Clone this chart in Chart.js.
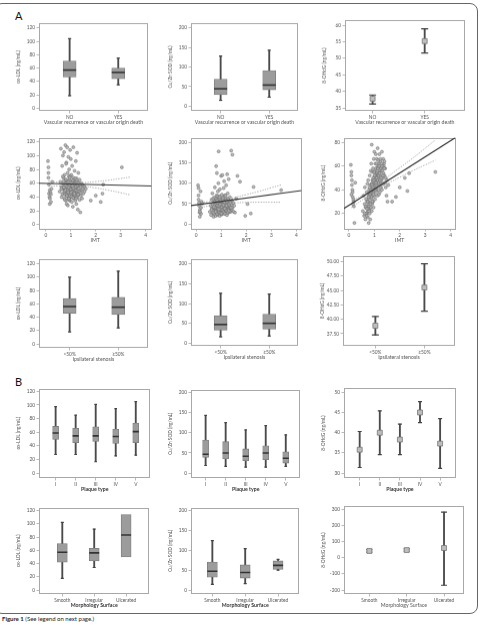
<!DOCTYPE html>
<html><head><meta charset="utf-8">
<script src="https://cdn.jsdelivr.net/npm/chart.js@4.4.1/dist/chart.umd.min.js"></script>
<style>
html,body{margin:0;padding:0;background:#fff;}
body{width:481px;height:625px;position:relative;overflow:hidden;font-family:Lato,"Liberation Sans",sans-serif;}
#outer{position:absolute;left:-6px;top:3px;width:484px;height:611px;box-sizing:border-box;border:1.5px solid #666;border-radius:8px;}
.lbl{position:absolute;font-size:11px;color:#111;line-height:11px;}
#cap{position:absolute;left:2px;top:615px;font-size:6px;color:#222;line-height:8px;}
</style></head><body>
<div id="outer"></div>
<div class="lbl" style="left:15px;top:10px">A</div>
<div class="lbl" style="left:15px;top:376px">B</div>
<div id="cap"><b>Figure 1</b> (See legend on next page.)</div>
<script>
// ---------------- categories & tick labels ----------------
const recurrenceCats = ["NO", "YES"];
const stenosisCats = ["<50%", "\u226550%"];
const plaqueCats = ["I", "II", "III", "IV", "V"];
const morphCats = ["Smooth", "Irregular", "Ulcerated"];

const ticksOx = [0, 20, 40, 60, 80, 100, 120];
const ticksSod = [0, 50, 100, 150, 200];
const ticksOhdgRec = [35, 40, 45, 50, 55, 60];
const ticksImt = [0, 1, 2, 3, 4];
const ticksOhdgImt = [20, 40, 60, 80];
const ticksOhdgSten = [37.5, 40, 42.5, 45, 47.5, 50];
const ticksOhdgPlaque = [30, 35, 40, 45, 50];
const ticksOhdgMorph = [-200, -100, 0, 100, 200, 300];

// ---------------- box plot stats [min, q1, median, q3, max] ----------------
const oxRecurrence = [[18.7, 46.5, 57, 70.5, 104], [35, 44, 53.5, 60, 75]];
const sodRecurrence = [[15, 29.6, 44.5, 69, 128], [23, 42, 54, 91, 143]];
const oxStenosis = [[18, 46, 56, 68, 100], [24, 44, 55, 70, 109]];
const sodStenosis = [[16, 33, 47, 69, 126], [18, 35, 50, 73, 124]];
const oxPlaque = [[27.4, 49.5, 59, 68.6, 97.5], [27.4, 44.6, 54.7, 65.8, 85], [16.8, 46.6, 54.7, 68, 100.8], [25.4, 43.7, 53.8, 64.8, 94.6], [26.4, 44.6, 61, 73.4, 105]];
const sodPlaque = [[19, 39, 47, 82, 143], [17, 35, 50, 78, 125], [15, 31, 42, 60, 107], [15, 33.5, 50, 68, 118], [17, 25, 37, 53, 95]];
const oxMorph = [[17.5, 42, 57, 70, 102], [34, 44, 56, 63, 92], [null, 50, 83, 114, null]];
const sodMorph = [[14, 32, 47, 70, 124], [16, 30, 44, 63, 104], [50, 52, 62, 73, 77]];

// ---------------- mean with error bars [low, mean, high] ----------------
const ohdgRecurrence = [[36.2, 37.8, 38.9], [51.6, 55.2, 58.9]];
const ohdgStenosis = [[37.3, 38.9, 40.5], [41.4, 45.5, 49.6]];
const ohdgPlaque = [[31.4, 35.8, 40.3], [34.6, 40, 45.4], [34.6, 38.3, 42.1], [42.5, 45, 47.7], [31.2, 37.3, 43.5]];
const ohdgMorph = [[35, 42, 50], [40, 47, 55], [-170, 60, 282]];

// ---------------- scatter: IMT vs markers ----------------
const imtValues = [
  0.08,0.1,0.1,0.12,0.12,0.14,0.15,0.15,0.18,0.2,0.2,0.22,0.25,0.1,0.16,
  0.55,0.58,0.6,0.62,0.63,0.65,0.66,0.68,0.7,0.7,
  0.72,0.73,0.74,0.75,0.75,0.76,0.78,0.78,0.8,0.8,
  0.8,0.82,0.82,0.83,0.84,0.85,0.85,0.86,0.87,0.88,
  0.88,0.89,0.9,0.9,0.9,0.91,0.92,0.92,0.93,0.94,
  0.95,0.95,0.96,0.97,0.98,0.98,1.0,1.0,1.0,1.01,
  1.02,1.03,1.04,1.05,1.05,1.06,1.07,1.08,1.08,1.1,
  1.1,1.1,1.12,1.12,1.13,1.14,1.15,1.15,1.16,1.18,
  1.18,1.2,1.2,1.2,1.22,1.23,1.24,1.25,1.25,1.26,
  1.28,1.28,1.3,1.3,1.32,1.33,1.35,1.35,1.36,1.38,
  1.4,1.4,1.42,1.43,1.45,1.45,1.48,1.5,1.52,1.55,
  0.68,0.72,0.77,0.81,0.86,0.93,0.99,1.06,1.11,1.17,
  0.62,0.66,0.7,0.74,0.76,0.79,0.8,0.83,0.85,0.87,
  0.89,0.9,0.92,0.94,0.96,0.97,0.99,1.0,1.02,1.03,
  1.04,1.06,1.08,1.09,1.1,1.12,1.13,1.15,1.17,1.19,
  1.2,1.22,1.24,1.26,1.27,1.29,1.31,1.34,1.37,1.39,
  0.71,0.78,0.84,0.91,0.95,1.01,1.07,1.14,1.21,1.3
];
const oxImtValues = [
  92,83,68,45,58,40,30,50,47,44,33,52,62,75,38,
  48,62,110,55,40,85,52,100,45,68,
  58,105,38,50,72,44,115,60,35,53,
  65,47,90,30,57,112,42,62,75,50,
  28,55,98,46,60,38,70,52,80,44,
  58,66,35,108,50,62,45,95,55,40,
  72,48,33,57,85,43,62,52,26,68,
  47,112,55,38,64,50,78,42,58,35,
  53,92,45,60,30,67,48,55,104,40,
  62,22,50,75,44,57,36,65,48,18,
  55,42,60,50,38,58,52,45,56,48,
  70,54,49,88,61,36,57,45,64,52,
  52,44,60,48,36,57,65,42,55,50,
  47,62,38,58,53,70,45,51,60,41,
  56,48,64,39,53,46,59,43,67,50,
  55,40,61,49,57,44,52,48,58,46,
  63,50,42,54,68,47,56,45,38,60
];
const sodImtValues = [
  95,88,60,45,52,28,18,35,80,40,25,55,50,70,30,
  30,45,22,60,38,75,28,50,18,40,
  65,25,48,35,90,55,20,42,142,30,
  58,70,28,125,45,35,62,22,80,50,
  38,100,178,48,26,55,33,68,42,20,
  52,85,36,45,28,60,40,118,30,55,
  24,72,46,120,35,50,64,28,42,88,
  55,32,48,105,38,25,70,45,58,35,
  30,52,95,40,62,22,122,48,36,75,
  44,60,110,28,50,38,66,42,55,30,
  180,48,36,58,170,40,52,30,45,28,
  62,40,54,33,68,46,38,57,50,44,
  35,48,28,55,40,32,62,25,45,38,
  52,30,44,66,27,50,36,58,42,24,
  48,34,60,29,46,38,54,26,70,40,
  33,56,44,28,62,35,47,31,52,40,
  42,30,58,36,48,26,64,38,45,32
];
const ohdgImtValues = [
  61,55,52,48,44,40,38,34,32,30,26,12,46,36,28,
  22,35,18,28,42,15,25,32,20,38,
  26,45,17,30,22,48,12,35,24,40,
  28,52,20,36,15,44,30,56,25,38,
  62,33,45,22,78,40,28,55,35,48,
  30,58,42,25,66,38,50,72,35,45,
  55,32,62,44,48,70,38,52,42,58,
  45,66,35,54,75,48,40,60,50,36,
  62,44,55,70,38,52,64,46,58,42,
  56,48,72,40,60,50,66,45,54,62,
  52,64,46,58,42,50,35,48,30,44,
  20,30,26,42,35,48,55,40,52,46,
  20,26,18,30,24,33,22,36,28,40,
  34,45,30,42,50,36,48,55,40,52,
  46,58,44,62,50,56,48,65,52,60,
  54,48,66,58,50,62,56,52,60,58,
  24,34,38,44,40,52,46,58,54,60
];
// outlying points per panel
const oxOutImt = [1.55, 1.6, 1.8, 2.0, 2.2, 2.27, 2.3, 3.05];
const oxOutVal = [55, 52, 35, 42, 33, 45, 58, 83];
const sodOutImt = [1.6, 1.65, 1.75, 1.96, 2.05, 2.18, 2.29, 3.39];
const sodOutVal = [62, 118, 104, 20, 49, 26, 91, 83];
const ohdgOutImt = [1.7, 1.85, 2.0, 2.2, 2.3, 2.37, 3.4];
const ohdgOutVal = [30, 34, 42, 50, 39, 54, 55];

// fitted lines (end points) and confidence curves
const oxRegX = [-0.28, 4.24], oxRegY = [60, 56];
const sodRegX = [-0.2, 4.2], sodRegY = [45, 82];
const ohdgRegX = [-0.19, 4.19], ohdgRegY = [24.2, 84];
const ciImt = [0.1, 0.5, 1.0, 1.5, 2.0, 2.5, 3.0, 3.4];
const oxCiHi = [63.5, 61.5, 60.3, 60.8, 62.3, 64.3, 66.8, 69];
const oxCiLo = [55.5, 56.2, 56.6, 55.6, 53.2, 50, 46.3, 43];
const sodCiHi = [53, 55, 59, 65, 72, 80, 89, 96];
const sodCiLo = [40, 44, 48.5, 51.5, 53, 53.5, 53.5, 53.5];
const ohdgCiHi = [30.5, 35, 42, 50.5, 58.5, 66.5, 75, 82];
const ohdgCiLo = [25, 31, 38.5, 45, 50.5, 56, 61, 65];

// ---------------- drawing ----------------
const AXW = 24, PADT = 4, PADR = 3;
const FONT = 'Lato, "Liberation Sans", sans-serif';
const TXT = '#555';

const framePlugin = {
  id: 'frame',
  beforeDatasetsDraw(chart) {
    const a = chart.chartArea, ctx = chart.ctx;
    ctx.save();
    ctx.strokeStyle = '#a8a8a8';
    ctx.lineWidth = 1;
    ctx.strokeRect(Math.round(a.left) + 0.5, Math.round(a.top) + 0.5,
                   Math.round(a.right - a.left) - 1, Math.round(a.bottom - a.top) - 1);
    ctx.restore();
  }
};

function addChart(p) {
  const axh = p.axh || 14.5;
  const div = document.createElement('div');
  div.style.cssText = `position:absolute;left:${p.left - AXW}px;top:${p.top - PADT}px;width:${p.w + AXW + PADR}px;height:${p.h + PADT + axh}px;`;
  const cv = document.createElement('canvas');
  div.appendChild(cv);
  document.body.appendChild(div);
  return new Chart(cv, {
    type: 'scatter',
    data: { datasets: p.datasets },
    options: {
      responsive: true, maintainAspectRatio: false, animation: false,
      layout: { padding: { top: PADT, right: PADR, left: 0, bottom: 0 } },
      plugins: { legend: { display: false }, tooltip: { enabled: false } },
      scales: {
        x: {
          type: 'linear', min: p.xMin, max: p.xMax, offset: false,
          afterBuildTicks: s => { s.ticks = p.xTicks.map(v => ({ value: v })); },
          afterFit: s => { s.height = axh; },
          ticks: { callback: p.xLabel, font: { family: FONT, size: 4.8 }, color: TXT, padding: 1, maxRotation: 0, autoSkip: false },
          grid: { offset: false, drawOnChartArea: false, drawTicks: true, tickLength: 2.5, color: '#a8a8a8', lineWidth: 0.8 },
          border: { display: false },
          title: { display: true, text: p.xTitle, font: { family: FONT, size: 5.2, weight: p.xBold ? 'bold' : 'normal' }, color: p.xBold ? '#333' : TXT, padding: { top: 0, bottom: 0 } }
        },
        y: {
          type: 'linear', min: p.yMin, max: p.yMax, offset: false,
          afterBuildTicks: s => { s.ticks = p.yTicks.map(v => ({ value: v })); },
          afterFit: s => { s.width = AXW; },
          ticks: { callback: p.yLabel || (v => String(v)), font: { family: FONT, size: 4.8 }, color: TXT, padding: 1.5, autoSkip: false },
          grid: { drawOnChartArea: false, drawTicks: true, tickLength: 2.5, color: '#a8a8a8', lineWidth: 0.8 },
          border: { display: false },
          title: { display: true, text: p.yTitle, font: { family: FONT, size: 4.8 }, color: TXT, padding: { top: 1, bottom: 0 } }
        }
      }
    },
    plugins: [framePlugin]
  });
}

function boxSets(stats, width, capR) {
  const wh = stats.map((s, i) => [s, i]).filter(([s]) => s[0] !== null);
  return [
    { type: 'scatter', data: stats.map((s, i) => ({ x: i, y: s[2] })), pointStyle: 'line', pointRadius: width / 2, pointBorderWidth: 1.6, pointBorderColor: '#333', order: 0 },
    { type: 'scatter', data: wh.flatMap(([s, i]) => [{ x: i, y: s[0] }, { x: i, y: s[4] }]), pointStyle: 'line', pointRadius: capR, pointBorderWidth: 1.2, pointBorderColor: '#444', order: 1 },
    { type: 'bar', data: stats.map((s, i) => ({ x: i, y: [s[1], s[3]] })), barThickness: width, backgroundColor: '#9c9c9c', borderColor: '#7c7c7c', borderWidth: 0.8, borderSkipped: false, grouped: false, order: 2 },
    { type: 'bar', data: wh.map(([s, i]) => ({ x: i, y: [s[0], s[4]] })), barThickness: 1.2, backgroundColor: '#4a4a4a', borderWidth: 0, grouped: false, order: 3 }
  ];
}

function errSets(stats, capR, sq) {
  return [
    { type: 'scatter', data: stats.map((s, i) => ({ x: i, y: s[1] })), pointStyle: 'rect', pointRadius: sq, pointBackgroundColor: '#bdbdbd', pointBorderColor: '#777', pointBorderWidth: 0.8, order: 0 },
    { type: 'scatter', data: stats.flatMap((s, i) => [{ x: i, y: s[0] }, { x: i, y: s[2] }]), pointStyle: 'line', pointRadius: capR, pointBorderWidth: 1.2, pointBorderColor: '#444', order: 1 },
    { type: 'bar', data: stats.map((s, i) => ({ x: i, y: [s[0], s[2]] })), barThickness: 1.2, backgroundColor: '#4a4a4a', borderWidth: 0, grouped: false, order: 2 }
  ];
}

function scatterSets(vals, outX, outY, regX, regY, ciHi, ciLo) {
  const pts = imtValues.map((x, i) => ({ x, y: vals[i] })).concat(outX.map((x, i) => ({ x, y: outY[i] })));
  const line = (xs, ys) => xs.map((x, i) => ({ x, y: ys[i] }));
  return [
    { type: 'scatter', data: line(regX, regY), showLine: true, borderColor: '#333', borderWidth: 1.2, pointRadius: 0, order: 0 },
    { type: 'scatter', data: line(ciImt, ciHi), showLine: true, borderColor: '#999', borderWidth: 0.8, borderDash: [1.3, 1.3], tension: 0.4, pointRadius: 0, order: 1 },
    { type: 'scatter', data: line(ciImt, ciLo), showLine: true, borderColor: '#999', borderWidth: 0.8, borderDash: [1.3, 1.3], tension: 0.4, pointRadius: 0, order: 1 },
    { type: 'scatter', data: pts, pointRadius: 1.5, pointBackgroundColor: 'rgba(175,175,175,0.85)', pointBorderColor: '#666', pointBorderWidth: 0.5, order: 2 }
  ];
}

const catTicks = cats => cats.map((c, i) => i);
const catLabel = cats => (v, i) => cats[i];
const recTitle = 'Vascular recurrence or vascular origin death';
const oxTitle = 'ox-LDL (ng/mL)', sodTitle = 'Cu/Zn SOD (ng/mL)', ohdgTitle = '8-OHdG (ng/mL)';

// Row 1
addChart({ left: 39, top: 19, w: 114, h: 91, xMin: -0.63, xMax: 1.61, xTicks: catTicks(recurrenceCats), xLabel: catLabel(recurrenceCats), xTitle: recTitle,
  yMin: -4, yMax: 127, yTicks: ticksOx, yTitle: oxTitle, datasets: boxSets(oxRecurrence, 13, 1.6) });
addChart({ left: 191, top: 19, w: 112, h: 91, xMin: -0.61, xMax: 1.59, xTicks: catTicks(recurrenceCats), xLabel: catLabel(recurrenceCats), xTitle: recTitle,
  yMin: -12, yMax: 212, yTicks: ticksSod, yTitle: sodTitle, datasets: boxSets(sodRecurrence, 13, 1.6) });
addChart({ left: 345, top: 19, w: 122, h: 91, xMin: -0.53, xMax: 1.77, xTicks: catTicks(recurrenceCats), xLabel: catLabel(recurrenceCats), xTitle: recTitle,
  yMin: 34.1, yMax: 61.5, yTicks: ticksOhdgRec, yTitle: ohdgTitle, datasets: errSets(ohdgRecurrence, 3.5, 3.5) });

// Row 2
addChart({ left: 39, top: 137, w: 114, h: 91, xMin: -0.28, xMax: 4.24, xTicks: ticksImt, xLabel: v => String(v), xTitle: 'IMT',
  yMin: -6, yMax: 126, yTicks: ticksOx, yTitle: oxTitle, datasets: scatterSets(oxImtValues, oxOutImt, oxOutVal, oxRegX, oxRegY, oxCiHi, oxCiLo) });
addChart({ left: 191, top: 137, w: 112, h: 91, xMin: -0.2, xMax: 4.2, xTicks: ticksImt, xLabel: v => String(v), xTitle: 'IMT',
  yMin: -12, yMax: 212, yTicks: ticksSod, yTitle: sodTitle, datasets: scatterSets(sodImtValues, sodOutImt, sodOutVal, sodRegX, sodRegY, sodCiHi, sodCiLo) });
addChart({ left: 344, top: 137, w: 113, h: 91, xMin: -0.19, xMax: 4.19, xTicks: ticksImt, xLabel: v => String(v), xTitle: 'IMT',
  yMin: 7, yMax: 84, yTicks: ticksOhdgImt, yTitle: ohdgTitle, datasets: scatterSets(ohdgImtValues, ohdgOutImt, ohdgOutVal, ohdgRegX, ohdgRegY, ohdgCiHi, ohdgCiLo) });

// Row 3
addChart({ left: 39, top: 255, w: 114, h: 92, xMin: -0.63, xMax: 1.61, xTicks: catTicks(stenosisCats), xLabel: catLabel(stenosisCats), xTitle: 'Ipsilateral stenosis',
  yMin: -6, yMax: 127, yTicks: ticksOx, yTitle: oxTitle, datasets: boxSets(oxStenosis, 13, 1.6) });
addChart({ left: 191, top: 255, w: 112, h: 90, xMin: -0.61, xMax: 1.59, xTicks: catTicks(stenosisCats), xLabel: catLabel(stenosisCats), xTitle: 'Ipsilateral stenosis',
  yMin: -7, yMax: 212, yTicks: ticksSod, yTitle: sodTitle, datasets: boxSets(sodStenosis, 13, 1.6) });
addChart({ left: 343, top: 255, w: 114, h: 90, xMin: -0.66, xMax: 1.62, xTicks: catTicks(stenosisCats), xLabel: catLabel(stenosisCats), xTitle: 'Ipsilateral stenosis',
  yMin: 35.4, yMax: 50.9, yTicks: ticksOhdgSten, yLabel: v => v.toFixed(2), yTitle: ohdgTitle, datasets: errSets(ohdgStenosis, 3.5, 3.5) });

// Row 4 (B)
addChart({ left: 39, top: 387, w: 114, h: 91, axh: 14, xMin: -0.83, xMax: 4.73, xTicks: catTicks(plaqueCats), xLabel: catLabel(plaqueCats), xTitle: 'Plaque type', xBold: true,
  yMin: -7, yMax: 124, yTicks: ticksOx, yTitle: oxTitle, datasets: boxSets(oxPlaque, 6, 1.3) });
addChart({ left: 191, top: 388, w: 112, h: 90, axh: 14, xMin: -0.73, xMax: 4.73, xTicks: catTicks(plaqueCats), xLabel: catLabel(plaqueCats), xTitle: 'Plaque type', xBold: true,
  yMin: -12, yMax: 207, yTicks: ticksSod, yTitle: sodTitle, datasets: boxSets(sodPlaque, 6, 1.3) });
addChart({ left: 344, top: 387, w: 114, h: 91, axh: 14, xMin: -0.78, xMax: 4.78, xTicks: catTicks(plaqueCats), xLabel: catLabel(plaqueCats), xTitle: 'Plaque type', xBold: true,
  yMin: 28.8, yMax: 51, yTicks: ticksOhdgPlaque, yTitle: ohdgTitle, datasets: errSets(ohdgPlaque, 2, 3.5) });

// Row 5
addChart({ left: 39, top: 505, w: 114, h: 89, axh: 14, xMin: -0.73, xMax: 2.73, xTicks: catTicks(morphCats), xLabel: catLabel(morphCats), xTitle: 'Morphology Surface', xBold: true,
  yMin: -6, yMax: 124.4, yTicks: ticksOx, yTitle: oxTitle, datasets: boxSets(oxMorph, 10, 1.5) });
addChart({ left: 191, top: 505, w: 112, h: 89, axh: 14, xMin: -0.65, xMax: 2.65, xTicks: catTicks(morphCats), xLabel: catLabel(morphCats), xTitle: 'Morphology Surface', xBold: true,
  yMin: -10, yMax: 207, yTicks: ticksSod, yTitle: sodTitle, datasets: boxSets(sodMorph, 10, 1.5) });
addChart({ left: 344, top: 505, w: 122, h: 89, axh: 14, xMin: -0.68, xMax: 2.53, xTicks: catTicks(morphCats), xLabel: catLabel(morphCats), xTitle: 'Morphology Surface',
  xBold: false, yMin: -224, yMax: 318, yTicks: ticksOhdgMorph, yTitle: ohdgTitle, datasets: errSets(ohdgMorph, 3, 3.5) });
</script>
</body></html>
